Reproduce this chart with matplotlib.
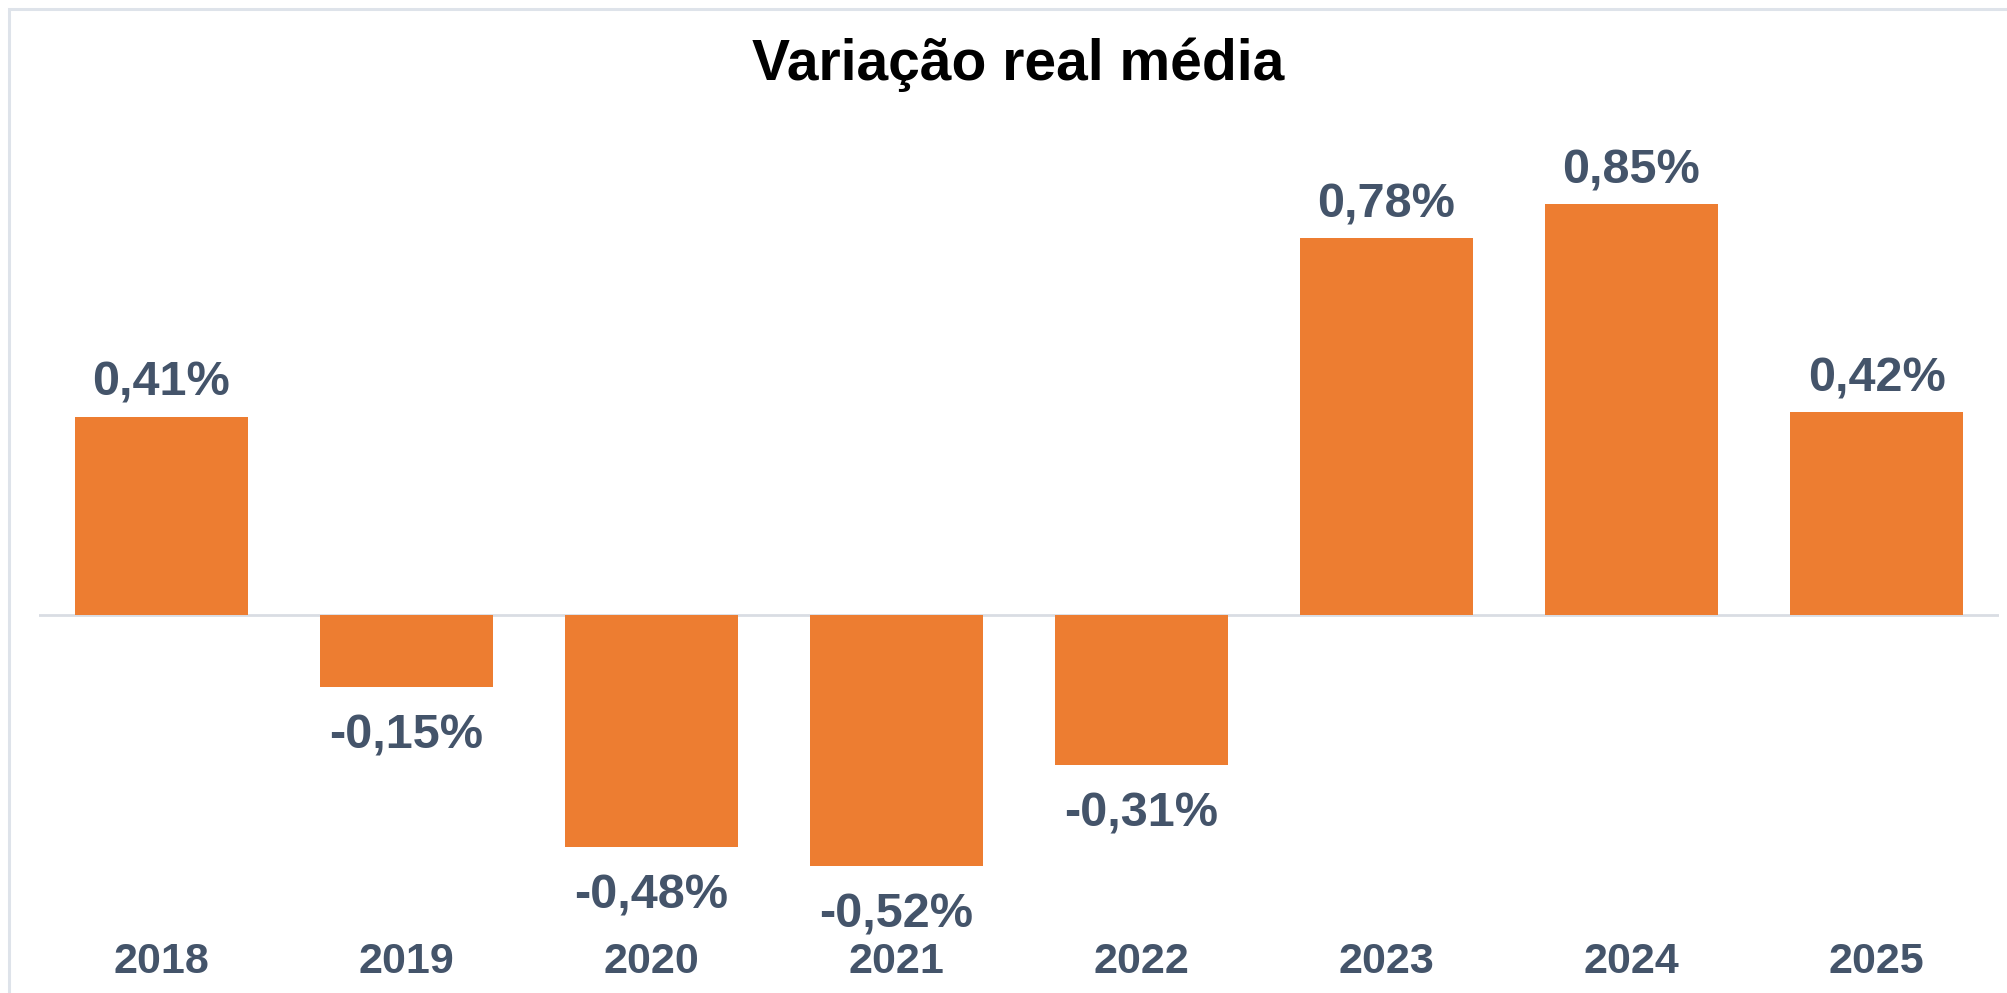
import matplotlib
matplotlib.use("Agg")
import matplotlib.pyplot as plt
from matplotlib.patches import Rectangle

years = ["2018", "2019", "2020", "2021", "2022", "2023", "2024", "2025"]
values = [0.41, -0.15, -0.48, -0.52, -0.31, 0.78, 0.85, 0.42]
labels = ["0,41%", "-0,15%", "-0,48%", "-0,52%", "-0,31%", "0,78%", "0,85%", "0,42%"]
title = "Variação real média"

plt.rcParams['font.family'] = ['Liberation Sans', 'DejaVu Sans']

W, H = 2007, 993
fig = plt.figure(figsize=(W / 100, H / 100), dpi=100)
fig.patch.set_facecolor("white")

# light frame (right/bottom clipped off)
fig.patches.append(Rectangle((9 / W, -0.05), 1.2, 1 - 9 / H + 0.05, transform=fig.transFigure,
                             fill=False, edgecolor="#DEE3EA", linewidth=2.2))

ax_top, ax_bot = 130, 900
ax = fig.add_axes([39 / W, (H - ax_bot) / H, 1960 / W, (ax_bot - ax_top) / H])
ax.set_facecolor("none")
zero_px = 615
ppu = 483.0
ax.set_ylim(-(ax_bot - zero_px) / ppu, (zero_px - ax_top) / ppu)
ax.set_xlim(-0.5, len(years) - 0.5)

x = list(range(len(years)))
ax.bar(x, values, width=0.706, color="#ED7D31", zorder=2)
ax.axhline(0, color="#D9DDE3", linewidth=2, zorder=1)

lab_color = "#44546A"
for xi, v, t in zip(x, values, labels):
    if v >= 0:
        ax.annotate(t, (xi, v), xytext=(0, 8), textcoords="offset points",
                    ha="center", va="bottom", fontsize=35, fontweight="bold", color=lab_color)
    else:
        ax.annotate(t, (xi, v), xytext=(0, -19), textcoords="offset points",
                    ha="center", va="top", fontsize=35, fontweight="bold", color=lab_color)

ax.set_xticks(x)
ax.set_xticklabels(years, fontsize=31, fontweight="bold", color=lab_color)
ax.tick_params(axis="x", length=0, pad=30)
ax.set_yticks([])
for s in ax.spines.values():
    s.set_visible(False)

fig.text(1018 / W, 1 - 65 / H, title, ha="center", va="center",
         fontsize=41, fontweight="bold", color="black")

fig.savefig("out.png", dpi=100, facecolor="white")
